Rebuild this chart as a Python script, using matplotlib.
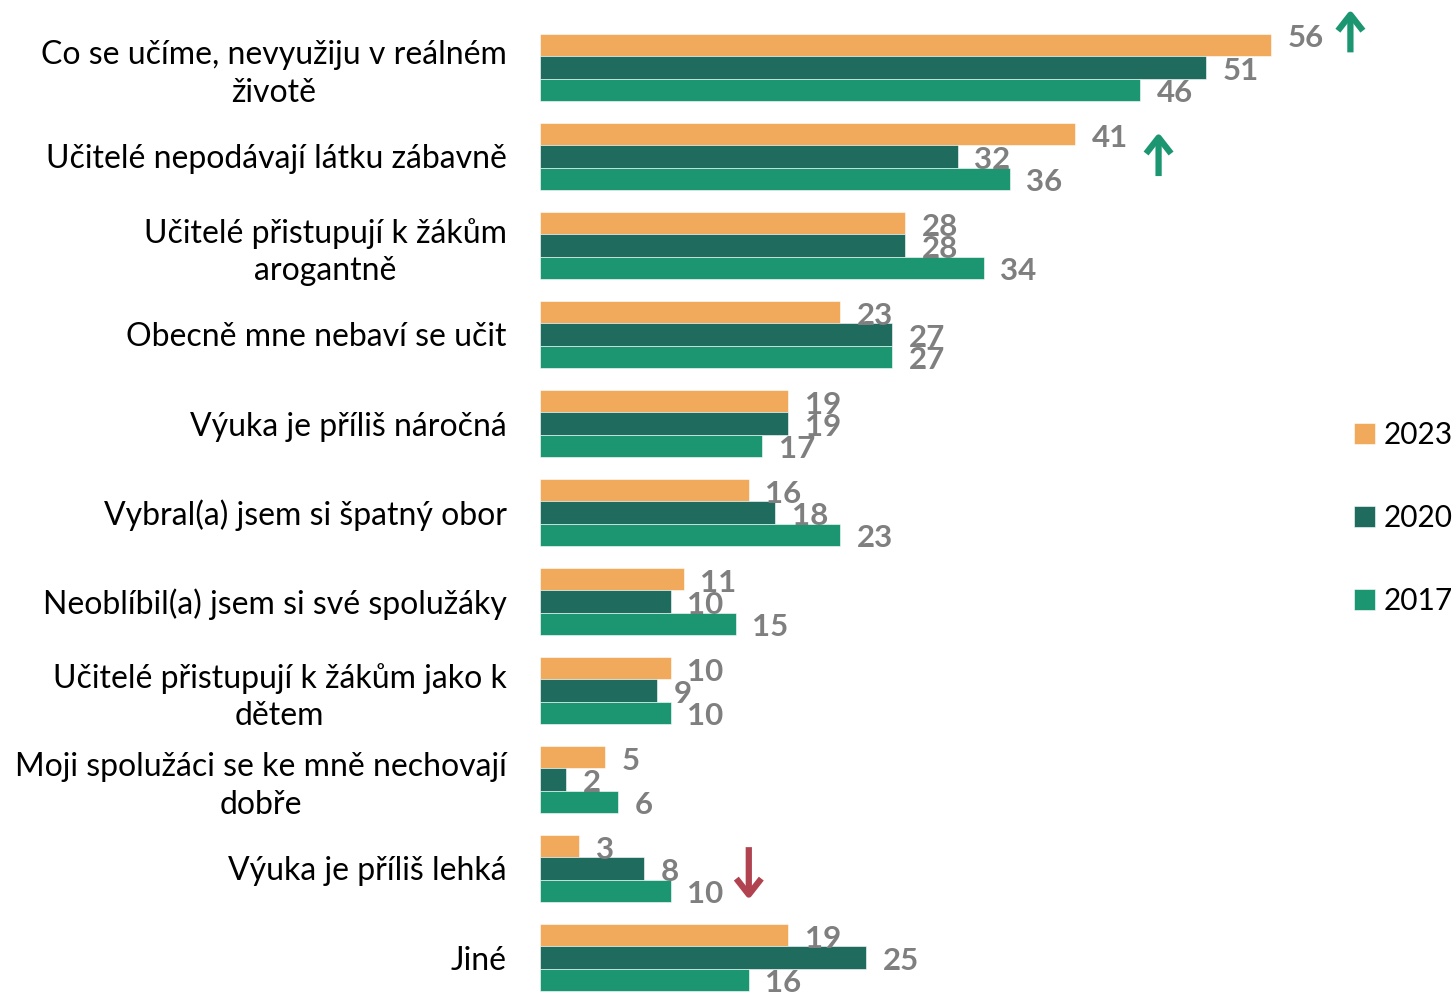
import matplotlib
matplotlib.use('Agg')
import matplotlib.pyplot as plt
import numpy as np

plt.rcParams['font.family'] = ['Lato', 'DejaVu Sans']

categories = [
    'Co se učíme, nevyužiju v reálném\nživotě',
    'Učitelé nepodávají látku zábavně',
    'Učitelé přistupují k žákům\narogantně',
    'Obecně mne nebaví se učit',
    'Výuka je příliš náročná',
    'Vybral(a) jsem si špatný obor',
    'Neoblíbil(a) jsem si své spolužáky',
    'Učitelé přistupují k žákům jako k\ndětem',
    'Moji spolužáci se ke mně nechovají\ndobře',
    'Výuka je příliš lehká',
    'Jiné',
]
years = ['2023', '2020', '2017']
v2023 = [56, 41, 28, 23, 19, 16, 11, 10, 5, 3, 19]
v2020 = [51, 32, 28, 27, 19, 18, 10, 9, 2, 8, 25]
v2017 = [46, 36, 34, 27, 17, 23, 15, 10, 6, 10, 16]

# significant changes: (category index, up/down)
changes = [(0, 'up'), (1, 'up'), (9, 'down')]

colors = ['#F1AA5B', '#1F6B5E', '#1B9670']
label_color = '#7F7F7F'

fig = plt.figure(figsize=(14.52, 9.93), dpi=100)
ax = fig.add_axes([540 / 1452, 0, 1 - 540 / 1452, 1])

y = np.arange(len(categories))
h = 0.25
series = [v2023, v2020, v2017]
bars = []
for k, (vals, col, yr) in enumerate(zip(series, colors, years)):
    b = ax.barh(y + (k - 1) * h, vals, height=h, color=col, label=yr,
                edgecolor='white', linewidth=0.4)
    bars.append(b)
    for i, (rect, v) in enumerate(zip(b, vals)):
        dy = 5 if (i == 0 and k == 0) else -2.5
        ax.annotate(str(v), (rect.get_width(), rect.get_y() + h / 2),
                    xytext=(12, dy), textcoords='offset points',
                    va='center', ha='left', fontsize=22.5, fontweight='bold',
                    color=label_color)

# arrow placement: x, start offset, end offset (relative to category)
arrow_pos = {0: (62.1, -0.17, -0.65), 1: (47.4, 0.22, -0.27), 9: (16.0, -0.24, 0.35)}
for i, d in changes:
    ax_x, s_off, e_off = arrow_pos[i]
    col = '#1B9670' if d == 'up' else '#B0434F'
    ax.annotate('', xy=(ax_x, i + e_off), xytext=(ax_x, i + s_off),
                arrowprops=dict(arrowstyle='->,head_length=1.15,head_width=0.9',
                                color=col, lw=4.5, shrinkA=0, shrinkB=0,
                                capstyle='butt', joinstyle='round'))

ax.set_xlim(0, 912 / 13.05)
ax.set_ylim((993 - 67.5) / 89, -67.5 / 89)
ax.set_yticks(y)
ax.set_yticklabels(categories, fontsize=23, linespacing=1.3)
for lbl in ax.get_yticklabels():
    lbl.set_multialignment('center')
ax.tick_params(axis='y', length=0, pad=24)
ax.set_xticks([])
for s in ax.spines.values():
    s.set_visible(False)

fig.legend(handles=bars, labels=years, loc='center left',
           bbox_to_anchor=(1342 / 1452, 1 - 518 / 993), frameon=False,
           fontsize=21.5, handlelength=0.7, handleheight=0.7,
           handletextpad=0.3, labelspacing=1.85, borderaxespad=0)

fig.savefig('out.png', dpi=100)
